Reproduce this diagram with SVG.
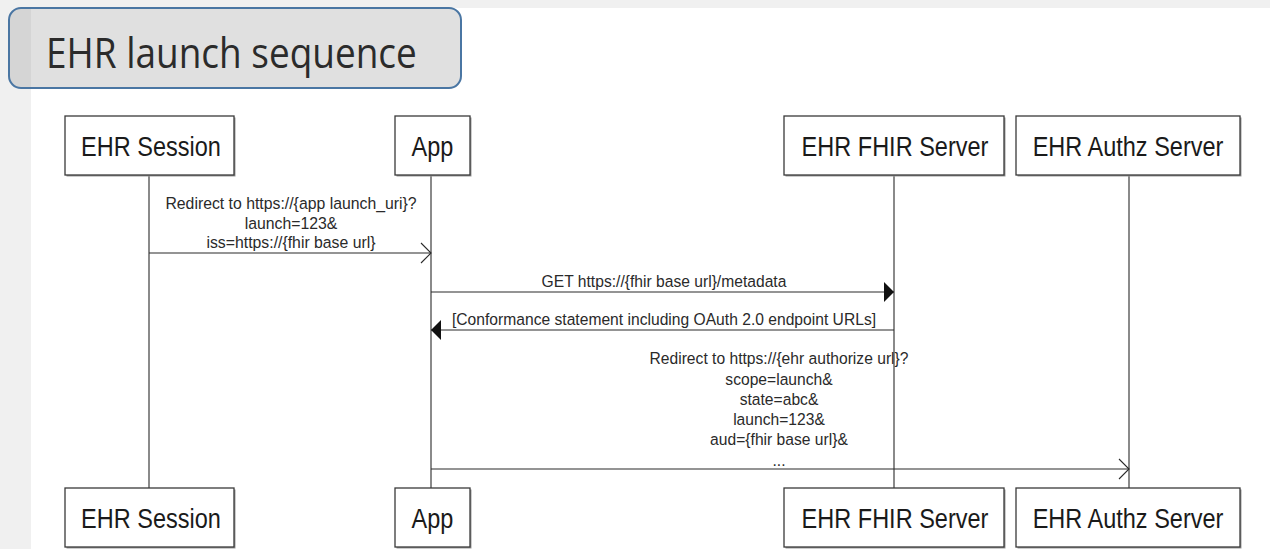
<svg xmlns="http://www.w3.org/2000/svg" width="1270" height="549" viewBox="0 0 1270 549">
<style>
.box{fill:#fff;stroke:#3a3a3a;stroke-width:1.3}
.shadow{fill:#9a9a9a}
.life{stroke:#2a2a2a;stroke-width:1.1;fill:none}
.msg{stroke:#2a2a2a;stroke-width:1.1;fill:none}
.lbl{font-family:"Liberation Sans",Arial,sans-serif;font-size:28px;fill:#1a1a1a;text-anchor:middle}
.mt{font-family:"Liberation Sans",Arial,sans-serif;font-size:17px;fill:#2a2a2a;text-anchor:middle}
</style>
<defs>
<marker id="open" viewBox="0 0 12 22" refX="11" refY="11" markerWidth="12" markerHeight="22" markerUnits="userSpaceOnUse" orient="auto">
<path d="M1,1 L11,11 L1,21" fill="none" stroke="#2a2a2a" stroke-width="1.1"/>
</marker>
<marker id="fill" viewBox="0 0 10 20" refX="10" refY="10" markerWidth="10" markerHeight="20" markerUnits="userSpaceOnUse" orient="auto">
<path d="M0,0 L10,10 L0,20 Z" fill="#111"/>
</marker>
<clipPath id="tclip"><rect x="9" y="8" width="452" height="80" rx="12"/></clipPath>
</defs>
<rect x="0" y="0" width="1270" height="549" fill="#f0f0f0"/>
<rect x="31" y="8" width="1239" height="541" fill="#fff"/>
<g id="title">
<rect x="9" y="8" width="452" height="80" rx="12" fill="#e0e0e0"/>
<rect x="9" y="8" width="22" height="80" fill="#d5d5d5" clip-path="url(#tclip)"/>
<rect x="9" y="8" width="452" height="80" rx="12" fill="none" stroke="#4a76a3" stroke-width="2"/>
<text transform="translate(46,68) scale(0.88,1)" font-family="'Open Sans',sans-serif" font-size="42" fill="#2b2b2b">EHR launch sequence</text>
</g>
<g id="lifelines">
<line class="life" x1="149" y1="175" x2="149" y2="488"/>
<line class="life" x1="431" y1="175" x2="431" y2="488"/>
<line class="life" x1="894" y1="175" x2="894" y2="488"/>
<line class="life" x1="1129" y1="175" x2="1129" y2="488"/>
</g>
<g id="node-ehr-session-top">
<rect class="shadow" x="66.5" y="117.5" width="169" height="59"/>
<rect class="box" x="65" y="116" width="169" height="59"/>
<text class="lbl" transform="translate(151,156) scale(0.84,1)">EHR Session</text>
</g>
<g id="node-app-top">
<rect class="shadow" x="396.5" y="117.5" width="75" height="59"/>
<rect class="box" x="395" y="116" width="75" height="59"/>
<text class="lbl" transform="translate(432.5,156) scale(0.84,1)">App</text>
</g>
<g id="node-fhir-top">
<rect class="shadow" x="785.5" y="117.5" width="220" height="59"/>
<rect class="box" x="784" y="116" width="220" height="59"/>
<text class="lbl" transform="translate(895,156) scale(0.84,1)">EHR FHIR Server</text>
</g>
<g id="node-authz-top">
<rect class="shadow" x="1017.5" y="117.5" width="224" height="59"/>
<rect class="box" x="1016" y="116" width="224" height="59"/>
<text class="lbl" transform="translate(1128,156) scale(0.84,1)">EHR Authz Server</text>
</g>
<g id="node-ehr-session-bottom">
<rect class="shadow" x="66.5" y="489.5" width="169" height="59"/>
<rect class="box" x="65" y="488" width="169" height="59"/>
<text class="lbl" transform="translate(151,528) scale(0.84,1)">EHR Session</text>
</g>
<g id="node-app-bottom">
<rect class="shadow" x="396.5" y="489.5" width="75" height="59"/>
<rect class="box" x="395" y="488" width="75" height="59"/>
<text class="lbl" transform="translate(432.5,528) scale(0.84,1)">App</text>
</g>
<g id="node-fhir-bottom">
<rect class="shadow" x="785.5" y="489.5" width="220" height="59"/>
<rect class="box" x="784" y="488" width="220" height="59"/>
<text class="lbl" transform="translate(895,528) scale(0.84,1)">EHR FHIR Server</text>
</g>
<g id="node-authz-bottom">
<rect class="shadow" x="1017.5" y="489.5" width="224" height="59"/>
<rect class="box" x="1016" y="488" width="224" height="59"/>
<text class="lbl" transform="translate(1128,528) scale(0.84,1)">EHR Authz Server</text>
</g>
<g id="connectors">
<line class="msg" x1="149" y1="253" x2="431" y2="253" marker-end="url(#open)"/>
<text class="mt" transform="translate(291,209) scale(0.93,1)">Redirect to https://{app launch_uri}?</text>
<text class="mt" transform="translate(291,228.5) scale(0.93,1)">launch=123&amp;</text>
<text class="mt" transform="translate(291,248) scale(0.93,1)">iss=https://{fhir base url}</text>
<line class="msg" x1="431" y1="292" x2="894" y2="292" marker-end="url(#fill)"/>
<text class="mt" transform="translate(664,287) scale(0.92,1)">GET https://{fhir base url}/metadata</text>
<line class="msg" x1="894" y1="330" x2="431" y2="330" marker-end="url(#fill)"/>
<text class="mt" transform="translate(664,325) scale(0.92,1)">[Conformance statement including OAuth 2.0 endpoint URLs]</text>
<line class="msg" x1="431" y1="469" x2="1129" y2="469" marker-end="url(#open)"/>
<text class="mt" transform="translate(779,364) scale(0.92,1)">Redirect to https://{ehr authorize url}?</text>
<text class="mt" transform="translate(779,384.5) scale(0.92,1)">scope=launch&amp;</text>
<text class="mt" transform="translate(779,405) scale(0.92,1)">state=abc&amp;</text>
<text class="mt" transform="translate(779,425) scale(0.92,1)">launch=123&amp;</text>
<text class="mt" transform="translate(779,445) scale(0.92,1)">aud={fhir base url}&amp;</text>
<text class="mt" transform="translate(779,466) scale(0.92,1)">...</text>
</g>
</svg>
